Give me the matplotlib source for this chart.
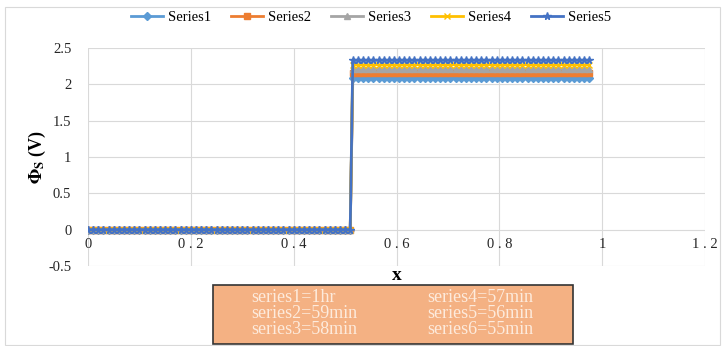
import numpy as np
import matplotlib
matplotlib.use("Agg")
import matplotlib.pyplot as plt
from matplotlib.patches import Rectangle

plt.rcParams['font.family'] = ['Liberation Serif', 'DejaVu Serif']
plt.rcParams['mathtext.fontset'] = 'stix'

# data: each series is 0 up to the step, then a flat level
x_low = np.round(np.arange(0, 0.515, 0.01), 3)
x_high = np.round(np.arange(0.515, 0.985, 0.01), 3)
series_names = ['Series1', 'Series2', 'Series3', 'Series4', 'Series5']
levels = [2.09, 2.15, 2.21, 2.27, 2.33]
colors = ['#5B9BD5', '#ED7D31', '#A5A5A5', '#FFC000', '#4472C4']
markers = ['D', 's', '^', 'x', '*']

notes_left = ['series1=1hr', 'series2=59min', 'series3=58min']
notes_right = ['series4=57min', 'series5=56min', 'series6=55min']

fig = plt.figure(figsize=(7.23, 3.46), dpi=100)
ax = fig.add_axes([88 / 723, 1 - 266 / 346, 617 / 723, 218 / 346])

for name, lvl, c, m in zip(series_names, levels, colors, markers):
    xs = np.concatenate([x_low, x_high])
    ys = np.concatenate([np.zeros(len(x_low)), np.full(len(x_high), lvl)])
    ms = 3.8 if m != '*' else 5.5
    ax.plot(xs, ys, color=c, lw=2, marker=m, ms=ms, mew=1, label=name)

ax.set_xlim(0, 1.2)
ax.set_ylim(-0.5, 2.5)
ax.set_xticks(np.arange(0, 1.21, 0.2))
ax.set_xticklabels(['0', '0 . 2', '0 . 4', '0 . 6', '0 . 8', '1', '1 . 2'])
ax.set_yticks(np.arange(-0.5, 2.51, 0.5))
ax.set_yticklabels(['-0.5', '0', '0.5', '1', '1.5', '2', '2.5'])
ax.grid(True, color='#D9D9D9', lw=0.8)
ax.set_axisbelow(True)
for s in ax.spines.values():
    s.set_visible(False)
ax.spines['bottom'].set_position(('data', 0))
ax.tick_params(length=0, labelsize=10.5, colors='#262626')
ax.tick_params(axis='y', pad=12)
ax.tick_params(axis='x', pad=6)

fig.text(37 / 723, 1 - 157 / 346, r'$\mathbf{\Phi_S}$ (V)', rotation=90,
         ha='center', va='center', fontsize=13, fontweight='bold')
fig.text(397 / 723, 1 - 276 / 346, 'x', ha='center', va='center',
         fontsize=14, fontweight='bold')

ax.legend(loc='center', bbox_to_anchor=(371 / 723, 1 - 17 / 346),
          bbox_transform=fig.transFigure, ncol=5, frameon=False,
          fontsize=10.5, handlelength=2.2, columnspacing=1.4,
          handletextpad=0.3, numpoints=1)

# notes box
fig.patches.append(Rectangle((213 / 723, 1 - 344 / 346), 360 / 723, 59 / 346,
                             transform=fig.transFigure, facecolor='#F4B183',
                             edgecolor='#333333', lw=1.2))
for i, (a, b) in enumerate(zip(notes_left, notes_right)):
    yy = 1 - (298 + i * 15.5) / 346
    fig.text(251 / 723, yy, a, ha='left', va='center', fontsize=13, color='#FDEBDD')
    fig.text(427 / 723, yy, b, ha='left', va='center', fontsize=13, color='#FDEBDD')

# chart area frame
fig.patches.append(Rectangle((5 / 723, 1 - 345 / 346), 715 / 723, 338 / 346,
                             transform=fig.transFigure, facecolor='none',
                             edgecolor='#D9D9D9', lw=0.8))

fig.savefig('out.png', dpi=100)
